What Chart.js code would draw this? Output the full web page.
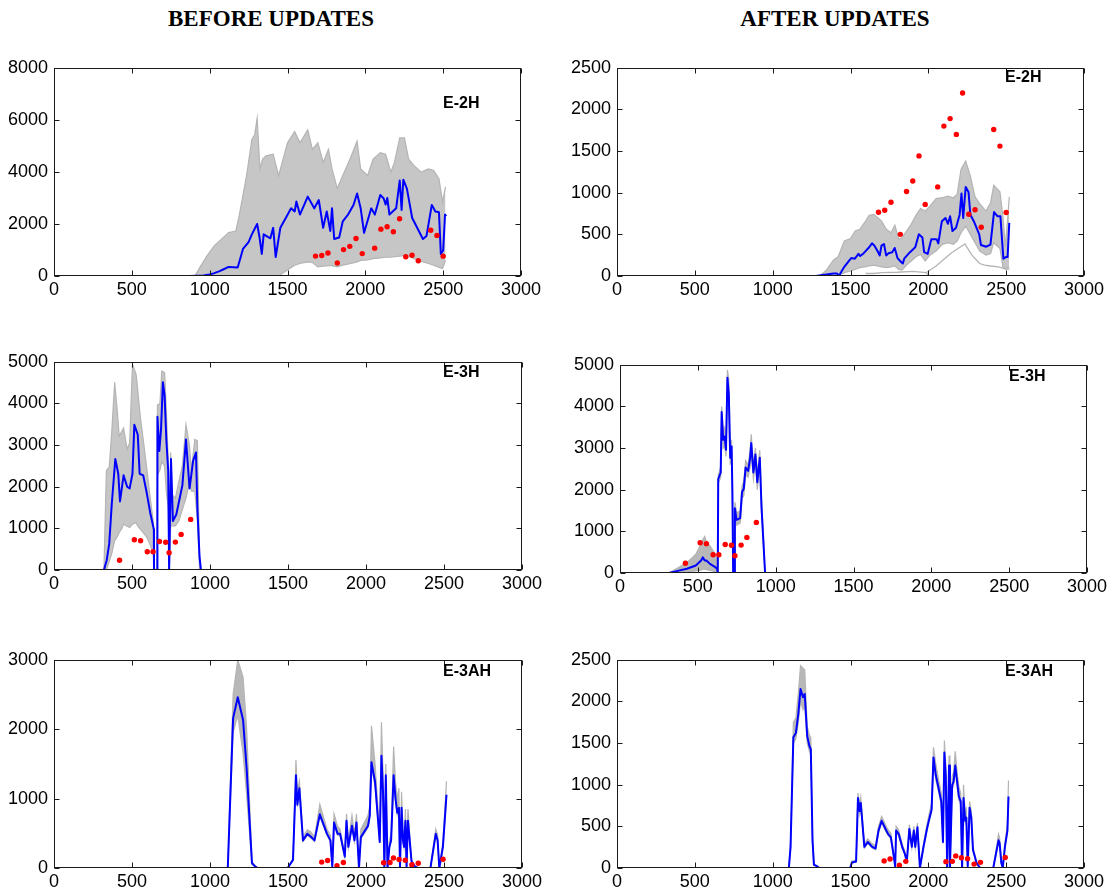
<!DOCTYPE html>
<html><head><meta charset="utf-8">
<script src="https://cdn.jsdelivr.net/npm/chart.js@4.4.0/dist/chart.umd.min.js"></script>
<style>
body{margin:0;width:1117px;height:895px;background:#fff;position:relative;overflow:hidden;}
.title{position:absolute;font-family:'Liberation Serif','Times New Roman',serif;font-weight:bold;font-size:23px;line-height:23px;transform:translateX(-50%);white-space:nowrap;color:#000}
canvas{position:absolute}
</style></head><body>
<div class="title" style="left:271px;top:7px">BEFORE UPDATES</div>
<div class="title" style="left:835px;top:7px">AFTER UPDATES</div>
<canvas id="c1"></canvas><canvas id="c2"></canvas><canvas id="c3"></canvas>
<canvas id="c4"></canvas><canvas id="c5"></canvas><canvas id="c6"></canvas>
<script>
// ---------- tick labels ----------
const X_TICKS = [0, 500, 1000, 1500, 2000, 2500, 3000];

// ---------- observations (red dots) ----------
const obs2H_x = [1680,1720,1760,1820,1860,1900,1940,1980,2060,2100,2140,2180,2220,2260,2300,2340,2420,2460,2500];
const obs2H_y = [765,790,885,500,1015,1140,1442,860,1070,1800,1890,1700,2198,742,795,585,1760,1560,762];
const obs3H_x = [420,515,555,598,635,676,716,738,778,815,876];
const obs3H_y = [235,725,705,440,440,685,666,415,670,855,1215];
const obs3AH_x = [1716,1754,1814,1855,2113,2154,2176,2212,2252,2294,2335,2494];
const obs3AH_y = [85,108,33,80,76,80,145,123,112,47,68,126];

// ---------- E-2H before ----------
const tl_mx = [0,870,960,1000,1030,1060,1090,1122,1180,1214,1250,1271,1305,1320,1335,1347,1374,1390,1408,1424,1454,1489,1523,1546,1557,1580,1630,1672,1701,1729,1752,1775,1786,1800,1832,1855,1889,1924,1947,1970,1992,2038,2061,2096,2118,2130,2141,2155,2198,2221,2233,2244,2267,2301,2370,2393,2427,2450,2473,2485,2500,2512,2520];
const tl_my = [0,0,20,60,110,180,260,350,330,1040,1300,1600,2000,1500,850,1600,1500,1450,1850,730,1850,2230,2600,2480,2860,2360,3050,2600,2920,1850,2480,1730,2600,1420,1480,2100,2360,2730,3170,2600,1660,2600,2360,3110,2980,2750,3000,2360,2600,3670,2540,3700,3360,2230,1420,1540,2730,2480,2450,850,980,2360,2300];
const tl_ex = [880,905,939,985,1030,1076,1122,1168,1191,1237,1271,1289,1305,1323,1340,1362,1408,1443,1466,1500,1546,1580,1630,1660,1695,1729,1763,1786,1820,1855,1901,1947,1970,2015,2050,2096,2130,2164,2187,2221,2251,2278,2313,2359,2405,2439,2473,2496,2515];
const tl_hi = [0,0,350,790,1166,1417,1668,1730,2357,3860,5240,5430,6056,4113,4490,4615,4677,3860,4364,5116,5555,5116,5618,4866,5116,4364,4866,4113,3360,3860,4490,5180,4113,3860,4490,4740,4677,3990,4364,5304,5304,4490,4240,3990,4113,4050,3737,2860,3423];
const tl_lo = [0,0,0,0,0,0,0,0,0,0,0,0,0,0,0,0,0,0,100,226,414,480,540,520,350,380,400,400,350,420,476,540,600,620,665,700,720,727,740,760,790,760,665,560,480,414,330,288,600];

// ---------- E-2H after ----------
const tr_mx = [0,1277,1391,1414,1425,1460,1494,1505,1528,1551,1562,1585,1620,1638,1654,1670,1688,1699,1715,1729,1745,1768,1784,1802,1825,1836,1845,1882,1916,1939,1962,1973,1996,2019,2053,2064,2087,2110,2126,2140,2155,2178,2201,2213,2224,2240,2258,2270,2292,2327,2338,2372,2399,2422,2445,2463,2482,2498,2509,2520];
const tr_my = [0,0,30,30,0,110,190,215,208,266,240,274,345,392,364,313,247,364,384,247,274,286,337,215,168,150,208,286,345,500,462,286,266,442,442,392,658,697,627,717,540,580,736,991,697,1070,1010,736,658,500,372,352,376,768,717,717,208,227,227,638];
const tr_ex = [1300,1340,1390,1420,1460,1500,1530,1560,1590,1620,1650,1700,1730,1760,1785,1810,1830,1860,1890,1920,1950,1980,2010,2050,2090,2125,2160,2185,2210,2240,2270,2300,2330,2370,2400,2420,2460,2480,2495,2510,2520];
const tr_hi = [0,60,190,230,420,450,540,560,640,730,740,660,560,520,610,440,460,540,620,730,810,780,840,930,940,960,940,980,1280,1380,1200,950,870,780,880,1090,1010,700,350,700,950];
const tr_lo = [0,0,0,0,40,60,80,100,110,120,130,110,100,110,120,80,70,130,180,230,260,180,250,300,380,400,380,420,520,600,500,400,300,250,270,400,330,100,80,100,100];
const tr_m1x = [1597,1650,1700,1800,1900,1985,2000];
const tr_m1y = [30,30,40,45,55,40,10];
const tr_m2x = [1985,2050,2100,2150,2235,2280,2330,2361,2400,2450,2490,2520];
const tr_m2y = [40,120,200,280,384,250,150,130,120,110,90,80];

// ---------- E-3H before ----------
const ml_mx = [0,320,338,354,370,393,412,423,446,469,485,503,515,537,549,572,595,617,640,641,662,663,675,686,698,709,720,732,738,750,762,784,823,846,869,892,910,919,933,942,2520];
const ml_my = [0,0,235,627,1567,2665,2312,1646,2273,2000,1960,2312,3487,3252,2312,2273,1842,1371,980,0,0,3680,2860,3370,4506,4193,3135,2390,0,2665,1175,1332,2037,3135,1960,2625,2821,1489,313,0,0];
const ml_ex = [320,336,354,370,389,405,418,435,446,469,485,503,526,537,553,572,595,617,636,645,659,663,679,691,709,720,732,739,748,759,778,800,823,846,869,880,903,919,933,940];
const ml_hi = [0,2390,2470,3300,4506,3840,3213,3330,3409,2900,3056,4937,4702,4310,3683,3135,2430,1724,1175,0,0,3958,3997,4780,4741,3840,2665,0,2821,1802,1724,2116,2508,3487,2978,2390,3135,3100,300,0];
const ml_lo = [0,0,200,392,705,800,900,1000,1097,1050,1019,1100,1136,1050,980,900,784,600,400,0,0,2273,2400,2600,2500,1880,1500,0,1058,1058,1058,1175,1450,1724,2116,1900,1880,1200,0,0];

// ---------- E-3H after ----------
const mr_x = [0,315,384,430,487,521,532,544,555,578,612,624,628,631,647,653,663,672,681,690,699,708,717,722,727,735,738,749,772,784,795,807,823,836,843,857,870,882,898,909,921,932,2520];
const mr_mean = [0,0,63,102,180,298,376,300,298,219,141,102,0,2257,2414,3864,3198,3276,2962,4687,4295,2766,3041,1944,0,0,1552,1277,1317,1944,2022,2531,2453,2766,3119,2414,2845,2179,2766,1591,768,0,0];
const mr_hi = [0,0,150,250,450,700,800,880,760,650,450,300,0,2350,2550,4000,3450,3500,3200,4880,4650,3000,3200,2100,0,0,1700,1450,1480,2100,2200,2700,2600,2950,3330,2600,3000,2400,2950,1800,900,0,0];
const mr_lo = [0,0,20,30,50,70,90,90,80,60,30,20,0,2150,2300,3700,3000,3050,2800,4400,4000,2600,2850,1800,0,0,1400,1150,1200,1800,1850,2350,2300,2550,2900,2250,2650,2000,2600,1450,650,0,0];

// ---------- E-3AH before ----------
const bl_x = [0,1114,1148,1178,1212,1235,1269,1285,1304,1498,1532,1551,1560,1573,1596,1624,1647,1670,1704,1750,1772,1784,1795,1818,1834,1864,1875,1887,1910,1926,1939,1955,1967,2013,2024,2035,2058,2088,2099,2109,2118,2127,2138,2150,2161,2177,2189,2200,2211,2218,2228,2237,2244,2253,2260,2269,2280,2292,2314,2333,2413,2447,2459,2470,2493,2516];
const bl_mean = [0,0,2156,2461,2133,1430,70,33,0,0,117,1336,914,1148,398,492,450,398,773,492,398,23,656,492,492,164,680,305,609,398,656,0,445,609,750,1523,1242,375,1617,1102,0,1336,0,305,400,1336,1008,797,867,20,867,398,305,680,20,680,398,94,20,0,0,492,400,0,305,1055];
const bl_hi = [0,0,2500,3000,2750,2000,100,40,0,0,130,1560,1100,1250,450,550,520,450,920,560,470,40,780,600,560,200,780,380,760,480,780,0,560,760,900,2050,1500,480,2100,1400,0,1500,0,400,500,1750,1250,1000,1150,30,1100,550,400,850,30,850,500,120,30,0,0,560,480,0,380,1250];
const bl_lo = [0,0,1950,2200,1650,1050,50,30,0,0,110,1300,880,1100,380,470,430,380,740,470,380,20,620,470,470,150,650,290,580,380,620,0,420,580,720,1450,1180,360,1550,1050,0,1280,0,290,380,1280,960,760,830,20,830,380,290,650,20,650,380,90,20,0,0,470,380,0,290,1000];

// ---------- E-3AH after ----------
const br_x = [0,1104,1115,1133,1149,1165,1179,1195,1206,1222,1236,1245,1256,1265,1286,1297,1498,1509,1536,1548,1559,1566,1589,1611,1639,1661,1680,1700,1725,1741,1759,1775,1787,1793,1809,1832,1848,1862,1878,1894,1907,1916,1930,1946,1969,1991,2003,2021,2033,2048,2066,2083,2094,2103,2112,2121,2133,2139,2153,2162,2173,2185,2196,2208,2217,2226,2237,2244,2253,2265,2276,2287,2310,2333,2417,2451,2458,2469,2478,2492,2508,2515];
const br_mean = [0,0,254,1570,1621,1855,2148,2051,2090,1582,1465,1426,332,39,20,0,0,66,78,840,684,781,254,312,254,234,449,566,469,410,371,176,20,449,410,254,176,78,469,254,449,254,488,0,254,469,566,703,1328,1113,957,801,312,1387,1113,0,1230,0,996,1035,1230,1035,859,801,0,840,566,605,20,723,605,215,59,0,0,332,300,59,0,254,449,859];
const br_hi = [0,0,300,1750,1800,2100,2430,2400,2380,1700,1600,1560,400,50,25,0,0,80,95,900,760,850,290,350,290,270,500,620,520,460,420,210,30,500,460,290,210,95,520,290,500,290,540,0,290,520,630,780,1450,1250,1060,900,360,1530,1250,0,1350,0,1100,1150,1400,1150,980,900,0,1000,650,700,25,800,680,250,70,0,0,410,360,70,0,300,520,1050];
const br_lo = [0,0,230,1500,1550,1750,2000,1900,1950,1500,1400,1360,300,35,18,0,0,60,70,800,650,740,240,295,240,220,425,540,445,390,350,165,18,425,390,240,165,70,445,240,425,240,460,0,240,445,540,670,1270,1060,910,760,295,1320,1060,0,1170,0,950,985,1170,985,815,760,0,800,540,575,18,690,575,205,55,0,0,315,285,55,0,240,425,815];

// ---------- drawing ----------
const GRAY = '#b4b4b4', FILL_WIDE = '#c6c6c6', FILL_TIGHT = '#b8b8b8';
const zip = (xs, ys) => xs.map((x, i) => ({x: x, y: ys[i]}));

function buildSets(obsX, obsY, meanX, meanY, ensX, hiY, loY, fillColor, members) {
  const sets = [
    {data: zip(obsX, obsY), showLine: false, pointRadius: 2.7, pointBackgroundColor: '#ff0000', pointBorderWidth: 0, borderWidth: 0, fill: false},
    {data: zip(meanX, meanY), borderColor: '#0000ff', borderWidth: 2, pointRadius: 0, fill: false, borderJoinStyle: 'round'}
  ];
  (members || []).forEach(m => sets.push({data: m, borderColor: GRAY, borderWidth: 1.3, pointRadius: 0, fill: false}));
  const hiIdx = sets.length;
  sets.push({data: zip(ensX, hiY), borderColor: GRAY, borderWidth: 1.2, pointRadius: 0, fill: false});
  sets.push({data: zip(ensX, loY), borderColor: GRAY, borderWidth: 1.2, pointRadius: 0, fill: {target: hiIdx, above: fillColor, below: fillColor}});
  return sets;
}

const deco = {
  id: 'deco',
  afterDraw(chart, args, o) {
    const ctx = chart.ctx, a = chart.chartArea, xs = chart.scales.x, ys = chart.scales.y;
    const L = Math.round(a.left) + 0.5, R = Math.round(a.right) - 0.5;
    const T = Math.round(a.top) + 0.5, B = Math.round(a.bottom) - 0.5;
    ctx.save();
    ctx.strokeStyle = '#1a1a1a'; ctx.lineWidth = 1;
    ctx.strokeRect(L, T, R - L, B - T);
    ctx.beginPath();
    xs.ticks.forEach(t => {
      const p = Math.round(xs.getPixelForValue(t.value)) + 0.5;
      ctx.moveTo(p, B); ctx.lineTo(p, B - 5);
      ctx.moveTo(p, T); ctx.lineTo(p, T + 5);
    });
    ys.ticks.forEach(t => {
      const p = Math.round(ys.getPixelForValue(t.value)) + 0.5;
      ctx.moveTo(L, p); ctx.lineTo(L + 5, p);
      ctx.moveTo(R, p); ctx.lineTo(R - 5, p);
    });
    ctx.stroke();
    ctx.fillStyle = '#000';
    ctx.font = 'bold 16px "Liberation Sans", Arial, sans-serif';
    ctx.textBaseline = 'middle'; ctx.textAlign = 'left';
    ctx.fillText(o.label, a.left + o.dx, a.top + o.dy);
    ctx.restore();
  }
};

function panel(id, left, top, plotW, plotH, yMax, yStep, label, dx, dy, sets) {
  const cv = document.getElementById(id);
  cv.width = plotW + 54 + 36; cv.height = plotH + 12 + 32;
  cv.style.left = left + 'px'; cv.style.top = top + 'px';
  cv.style.width = cv.width + 'px'; cv.style.height = cv.height + 'px';
  const tickFont = {family: '"Liberation Sans", Arial, sans-serif', size: 18};
  new Chart(cv, {
    type: 'line',
    data: {datasets: sets},
    options: {
      responsive: false, animation: false, devicePixelRatio: 1,
      layout: {padding: {left: 0, top: 12, right: 36, bottom: 0}},
      plugins: {legend: {display: false}, tooltip: {enabled: false}, deco: {label: label, dx: dx, dy: dy}},
      elements: {line: {tension: 0}},
      scales: {
        x: {type: 'linear', min: 0, max: 3000,
            afterBuildTicks: s => { s.ticks = X_TICKS.map(v => ({value: v})); },
            ticks: {color: '#000', font: tickFont, padding: 3, maxRotation: 0, autoSkip: false, callback: v => String(v)},
            grid: {display: false, drawTicks: false}, border: {display: false},
            afterFit: s => { s.height = 32; }},
        y: {type: 'linear', min: 0, max: yMax,
            ticks: {stepSize: yStep, color: '#000', font: tickFont, padding: 6, callback: v => String(v)},
            grid: {display: false, drawTicks: false}, border: {display: false},
            afterFit: s => { s.width = 54; }}
      }
    },
    plugins: [deco]
  });
}

panel('c1', 0, 51, 467, 213, 8000, 2000, 'E-2H', 389, 36,
  buildSets(obs2H_x, obs2H_y, tl_mx, tl_my, tl_ex, tl_hi, tl_lo, FILL_WIDE));
panel('c2', 563, 51, 467, 213, 2500, 500, 'E-2H', 388, 10,
  buildSets(obs2H_x, obs2H_y, tr_mx, tr_my, tr_ex, tr_hi, tr_lo, FILL_WIDE, [zip(tr_m1x, tr_m1y), zip(tr_m2x, tr_m2y)]));
panel('c3', 0, 345, 468, 213, 5000, 1000, 'E-3H', 389, 11,
  buildSets(obs3H_x, obs3H_y, ml_mx, ml_my, ml_ex, ml_hi, ml_lo, FILL_WIDE));
panel('c4', 566, 348, 467, 213, 5000, 1000, 'E-3H', 389, 12,
  buildSets(obs3H_x, obs3H_y, mr_x, mr_mean, mr_x, mr_hi, mr_lo, FILL_TIGHT));
panel('c5', 0, 643, 468, 213, 3000, 1000, 'E-3AH', 389, 12,
  buildSets(obs3AH_x, obs3AH_y, bl_x, bl_mean, bl_x, bl_hi, bl_lo, FILL_TIGHT));
panel('c6', 563, 643, 467, 213, 2500, 500, 'E-3AH', 388, 12,
  buildSets(obs3AH_x, obs3AH_y, br_x, br_mean, br_x, br_hi, br_lo, FILL_TIGHT));
</script>
</body></html>
